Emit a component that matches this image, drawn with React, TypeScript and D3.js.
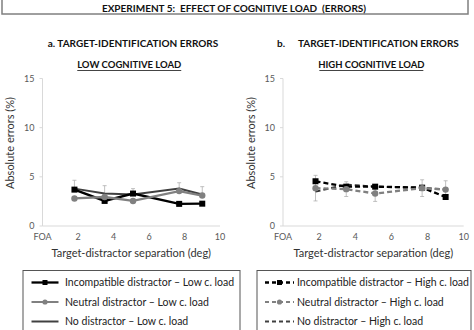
import React from "react";
import * as d3 from "d3";

const separations = [1.8, 3.5, 5.1, 7.7, 9.0];
const xTicks = [0, 2, 4, 6, 8, 10];
const xTickLabels = ["FOA", "2", "4", "6", "8", "10"];
const yTicks = [0, 5, 10, 15];

const incompatibleLow = [3.7, 2.55, 3.3, 2.25, 2.27];
const neutralLow = [2.8, 2.95, 2.55, 3.55, 3.1];
const noDistLow = [3.8, 3.3, 3.2, 3.8, 3.2];
const errLowUpper = [0.85, 0.8, 0.6, 0.6, 0.8];

const incompatibleHigh = [4.55, 4.0, 4.0, 3.9, 2.95];
const neutralHigh = [3.85, 3.75, 3.3, 3.85, 3.7];
const noDistHigh = [3.5, 4.2, 4.0, 3.9, 3.7];
const errHigh = [1.3, 0.75, 0.8, 0.85, 0.9];

const legendLow = [
  "Incompatible distractor \u2013 Low c. load",
  "Neutral distractor \u2013 Low c. load",
  "No distractor \u2013 Low c. load",
];
const legendHigh = [
  "Incompatible distractor \u2013 High c. load",
  "Neutral distractor \u2013 High c. load",
  "No distractor \u2013 High c. load",
];

const FONT = "Lato, 'Open Sans', sans-serif";
const AXIS = "#d9d9d9";
const TICK = "#595959";

type PanelProps = {
  x0: number;
  x1: number;
  title: string;
  inc: number[];
  neu: number[];
  nod: number[];
  errUp: number[];
  errDown: number[];
  dashed: boolean;
};

function Panel({ x0, x1, title, inc, neu, nod, errUp, errDown, dashed }: PanelProps) {
  const x = d3.scaleLinear().domain([0, 10]).range([x0, x1]);
  const y = d3.scaleLinear().domain([0, 15]).range([226, 78.5]);
  const line = d3
    .line<number>()
    .x((_, i) => x(separations[i]))
    .y((d) => y(d));
  const dash = dashed ? "5 3" : undefined;
  const cx = (x0 + x1) / 2 - 2;
  return (
    <g>
      <text x={cx} y={68} textAnchor="middle" fontFamily={FONT} fontWeight="bold" fontSize={9.5} fill="#111">
        {title}
      </text>
      <line x1={cx - 52} x2={cx + 52} y1={70.5} y2={70.5} stroke="#444" strokeWidth={1} />
      <line x1={x(0)} x2={x(0)} y1={y(15)} y2={y(0)} stroke={AXIS} strokeWidth={1} />
      <line x1={x(0)} x2={x(10)} y1={y(0)} y2={y(0)} stroke={AXIS} strokeWidth={1} />
      {yTicks.map((t) => (
        <g key={t}>
          <line x1={x(0) - 3} x2={x(0)} y1={y(t)} y2={y(t)} stroke={AXIS} />
          <text x={x(0) - 8} y={y(t) + 3} textAnchor="end" fontFamily={FONT} fontSize={9} fill={TICK}>
            {t}
          </text>
        </g>
      ))}
      {xTicks.map((t, i) => (
        <text key={t} x={x(t)} y={y(0) + 14} textAnchor="middle" fontFamily={FONT} fontSize={9} fill={TICK}>
          {xTickLabels[i]}
        </text>
      ))}
      <text
        x={(x(0) + x(10)) / 2}
        y={257}
        textAnchor="middle"
        fontFamily={FONT}
        fontSize={11}
        fill="#333"
      >
        Target-distractor separation (deg)
      </text>
      <text
        transform={`translate(${x(0) - 28.5},${143}) rotate(-90)`}
        textAnchor="middle"
        fontFamily={FONT}
        fontSize={11}
        fill="#333"
      >
        Absolute errors (%)
      </text>
      {separations.map((s, i) => {
        const base = dashed ? neu[i] : nod[i];
        const top = base + errUp[i];
        const bot = base - errDown[i];
        return (
          <g key={"e" + i} stroke="#b0b0b0" strokeWidth={0.8}>
            <line x1={x(s)} x2={x(s)} y1={y(top)} y2={y(bot)} />
            <line x1={x(s) - 2} x2={x(s) + 2} y1={y(top)} y2={y(top)} />
            {errDown[i] > 0 && <line x1={x(s) - 2} x2={x(s) + 2} y1={y(bot)} y2={y(bot)} />}
          </g>
        );
      })}
      <path d={line(nod) || ""} fill="none" stroke={dashed ? "#303030" : "#404040"} strokeWidth={2} strokeDasharray={dash} />
      <path d={line(inc) || ""} fill="none" stroke="#000" strokeWidth={2.3} strokeDasharray={dash} />
      {inc.map((v, i) => (
        <rect key={"s" + i} x={x(separations[i]) - 3} y={y(v) - 3} width={6} height={6} fill="#000" />
      ))}
      <path d={line(neu) || ""} fill="none" stroke="#808080" strokeWidth={2.3} strokeDasharray={dash} />
      {neu.map((v, i) => (
        <circle key={"c" + i} cx={x(separations[i])} cy={y(v)} r={3.2} fill="#808080" />
      ))}
    </g>
  );
}

function Legend({ x0, x1, labels, dashed, lx0, lx1, tx }: { x0: number; x1: number; labels: string[]; dashed: boolean; lx0: number; lx1: number; tx: number }) {
  const rows = [282.5, 302, 321.5];
  const dash = dashed ? "4 3" : undefined;
  const mid = (lx0 + lx1) / 2;
  return (
    <g>
      <rect x={x0} y={270.5} width={x1 - x0} height={80} fill="#fff" stroke="#555" strokeWidth={1} />
      <line x1={lx0} x2={lx1} y1={rows[0]} y2={rows[0]} stroke="#000" strokeWidth={2.3} strokeDasharray={dash} />
      <rect x={mid - 2.5} y={rows[0] - 2.5} width={5} height={5} fill="#000" />
      <line x1={lx0} x2={lx1} y1={rows[1]} y2={rows[1]} stroke="#808080" strokeWidth={2} strokeDasharray={dash} />
      <circle cx={mid} cy={rows[1]} r={2.6} fill="#808080" />
      <line x1={lx0} x2={lx1} y1={rows[2]} y2={rows[2]} stroke="#404040" strokeWidth={2} strokeDasharray={dash} />
      {labels.map((l, i) => (
        <text key={l} x={tx} y={rows[i] + 3.8} fontFamily={FONT} fontSize={10.5} fill="#222">
          {l}
        </text>
      ))}
    </g>
  );
}

export default function App() {
  return (
    <svg width={474} height={330} style={{ position: "absolute", left: 0, top: 0, background: "#fff" }}>
      <rect x={0} y={0} width={474} height={330} fill="#fff" />
      <rect x={2} y={-2} width={466} height={16} fill="#fff" stroke="#7f7f7f" strokeWidth={1.5} />
      <text x={234} y={11.5} textAnchor="middle" fontFamily={FONT} fontWeight="bold" fontSize={10} fill="#111" style={{ whiteSpace: "pre" }}>
        {"EXPERIMENT 5:  EFFECT OF COGNITIVE LOAD  (ERRORS)"}
      </text>
      <text x={133} y={47} textAnchor="middle" fontFamily={FONT} fontWeight="bold" fontSize={10} fill="#111">
        a. TARGET-IDENTIFICATION ERRORS
      </text>
      <text x={277} y={47} fontFamily={FONT} fontWeight="bold" fontSize={10} fill="#111">
        b.
      </text>
      <text x={298} y={47} fontFamily={FONT} fontWeight="bold" fontSize={10} fill="#111">
        TARGET-IDENTIFICATION ERRORS
      </text>
      <Panel
        x0={42.5}
        x1={220}
        title="LOW COGNITIVE LOAD"
        inc={incompatibleLow}
        neu={neutralLow}
        nod={noDistLow}
        errUp={errLowUpper}
        errDown={[0, 0, 0, 0, 0]}
        dashed={false}
      />
      <Panel
        x0={283}
        x1={463.7}
        title="HIGH COGNITIVE LOAD"
        inc={incompatibleHigh}
        neu={neutralHigh}
        nod={noDistHigh}
        errUp={errHigh}
        errDown={errHigh}
        dashed={true}
      />
      <Legend x0={23} x1={240} labels={legendLow} dashed={false} lx0={31.5} lx1={58.5} tx={65} />
      <Legend x0={257} x1={471} labels={legendHigh} dashed={true} lx0={265} lx1={294} tx={297} />
    </svg>
  );
}
